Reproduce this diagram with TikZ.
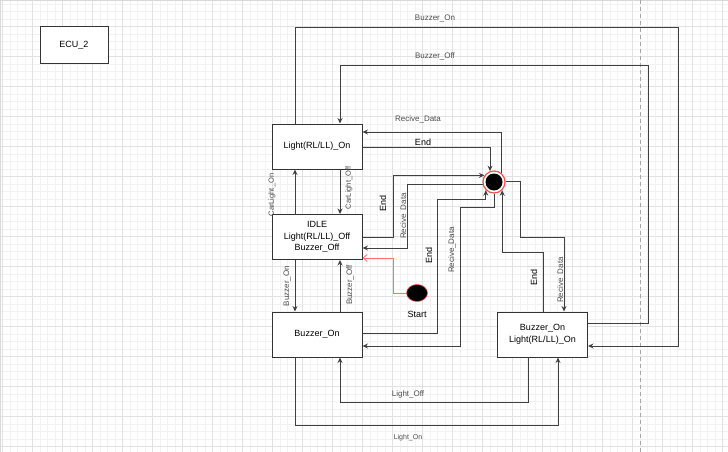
\documentclass[tikz,border=0pt]{standalone}
\usepackage{fontspec}
\setmainfont{Liberation Sans}
\usetikzlibrary{arrows.meta,calc,shapes.geometric}

\definecolor{mingridc}{HTML}{F2F2F2}
\definecolor{majgridc}{HTML}{E2E2E2}
\definecolor{startred}{HTML}{FF4D4D}

\tikzset{
  mingrid/.style={draw=mingridc, line width=0.6pt},
  majgrid/.style={draw=majgridc, line width=0.9pt},
  state/.style={draw=black!80, line width=1pt, fill=white, minimum width=90pt,
    minimum height=45pt, inner sep=0pt, align=center,
    font=\fontsize{9}{11.5}\selectfont},
  finst/.style={circle, draw=startred, line width=1.2pt, fill=white,
    minimum size=22pt, inner sep=0pt,
    path picture={\fill[black] (path picture bounding box.center) circle (8.5pt);}},
  startst/.style={ellipse, draw=startred, line width=0.6pt, fill=black,
    minimum width=21pt, minimum height=17pt, inner sep=0pt},
  trans/.style={draw=black!75, line width=0.9pt, -{Stealth[length=5.5pt,width=5pt]}},
  startarr/.style={draw=startred!80, line width=0.9pt, -{Straight Barb[length=4pt,width=7pt]}},
  lbl/.style={font=\fontsize{8}{9}\selectfont, text=black!70, inner sep=0pt},
  vlbl/.style={lbl, rotate=90},
  endlbl/.style={font=\fontsize{9}{10}\selectfont, inner sep=0pt},
}

\begin{document}
\begin{tikzpicture}[x=1pt,y=-1pt]
  \useasboundingbox (0,0) rectangle (728,452);

  % Grid
  \foreach \k in {0,...,96} \draw[mingrid] ({2.3+7.5*\k},0) -- ++(0,452);
  \foreach \k in {0,...,59} \draw[mingrid] (0,{4.2+7.5*\k}) -- ++(728,0);
  \foreach \k in {0,...,24} \draw[majgrid] ({2.3+30*\k},0) -- ++(0,452);
  \foreach \k in {0,...,14} \draw[majgrid] (0,{26.7+30*\k}) -- ++(728,0);
  \draw[black!15, line width=1.2pt] (0.8,452) |- (728,0.8);
  \draw[black!35, dash pattern=on 4pt off 3pt] (640,0) -- (640,452);

  % States
  \node[state, minimum width=68pt, minimum height=37pt] (ecu) at (74,45.5) {ECU\_2};
  \node[state] (light) at (317,146.5) {Light(RL/LL)\_On};
  \node[state] (idle) at (317,237) {IDLE\\Light(RL/LL)\_Off\\Buzzer\_Off};
  \node[state] (buzz) at (317,334.5) {Buzzer\_On};
  \node[state] (both) at (542.5,334.5) {Buzzer\_On\\Light(RL/LL)\_On};
  \node[finst] (fin) at (494,182) {};
  \node[startst] (start) at (417,293) {};
  \node[endlbl] (startlbl) at (417,314) {Start};

  % Start
  \draw[startarr] (start.west) -| ($(idle.east)+(31,21)$) -- ($(idle.east)+(0,21)$);

  % Outer loops
  \draw[trans] ($(light.north)+(-22,0)$) |- (678,27) |- ($(both.east)+(0,11.5)$);
  \node[lbl] at (435,19) {Buzzer\_On};
  \draw[trans] ($(both.east)+(0,-11.5)$) -| (648,65) -| ($(light.north)+(23,0)$);
  \node[lbl] at (435,56) {Buzzer\_Off};

  % Light on <-> end
  \draw[trans] (fin.50) |- ($(light.east)+(0,-14.5)$);
  \node[lbl] at (418,119) {Recive\_Data};
  \draw[trans] ($(light.east)+(0,0.5)$) -| (fin.110);
  \node[endlbl] at (423,142) {End};

  % Light on <-> idle
  \draw[trans] ($(idle.north)+(-22,0)$) -- ($(light.south)+(-22,0)$);
  \node[vlbl, font=\fontsize{7.5}{9}\selectfont] at (272,195) {CarLight\_On};
  \draw[trans] ($(light.south)+(23,0)$) -- ($(idle.north)+(23,0)$);
  \node[vlbl, font=\fontsize{7.5}{9}\selectfont] at (349,188) {CarLight\_Off};

  % Idle <-> end
  \draw[trans] (idle.east) -- ++(31,0) |- (fin.145);
  \node[endlbl, rotate=90] at (383,203) {End};
  \draw[trans] (fin.190) -| ($(idle.east)+(45,11)$) -- ($(idle.east)+(0,11)$);
  \node[vlbl] at (404,216) {Recive\_Data};

  % Buzzer on <-> end
  \draw[trans] ($(buzz.east)+(0,-1.5)$) -| ($(fin.225)+(-48,9)$) -| (fin.225);
  \node[endlbl, rotate=90] at (429,255) {End};
  \draw[trans] (fin.south) |- ($(fin.south)+(-34,14)$) |- ($(buzz.east)+(0,11.5)$);
  \node[vlbl] at (452,250) {Recive\_Data};

  % Both on <-> end
  \draw[trans] ($(both.north)+(0.5,0)$) |- ($(fin.-45)+(0,62)$) -- (fin.-45);
  \node[endlbl, rotate=90] at (534,277) {End};
  \draw[trans] (fin.5) -| ($(fin.east)+(15,55)$) -| ($(both.north)+(21.5,0)$);
  \node[vlbl] at (561,280) {Recive\_Data};

  % Idle <-> buzzer on
  \draw[trans] ($(idle.south)+(-22,0)$) -- ($(buzz.north)+(-22,0)$);
  \node[vlbl] at (287,286) {Buzzer\_On};
  \draw[trans] ($(buzz.north)+(23,0)$) -- ($(idle.south)+(23,0)$);
  \node[vlbl] at (350,285) {Buzzer\_Off};

  % Buzzer on <-> both on
  \draw[trans] ($(both.south)+(-14.5,0)$) |- ($(buzz.south)+(23,45)$) -- ($(buzz.south)+(23,0)$);
  \node[lbl] at (408,394) {Light\_Off};
  \draw[trans] ($(buzz.south)+(-22,0)$) |- ($(both.south)+(15.5,68)$) -- ($(both.south)+(15.5,0)$);
  \node[lbl, font=\fontsize{7}{8}\selectfont] at (408,438) {Light\_On};

\end{tikzpicture}
\end{document}
